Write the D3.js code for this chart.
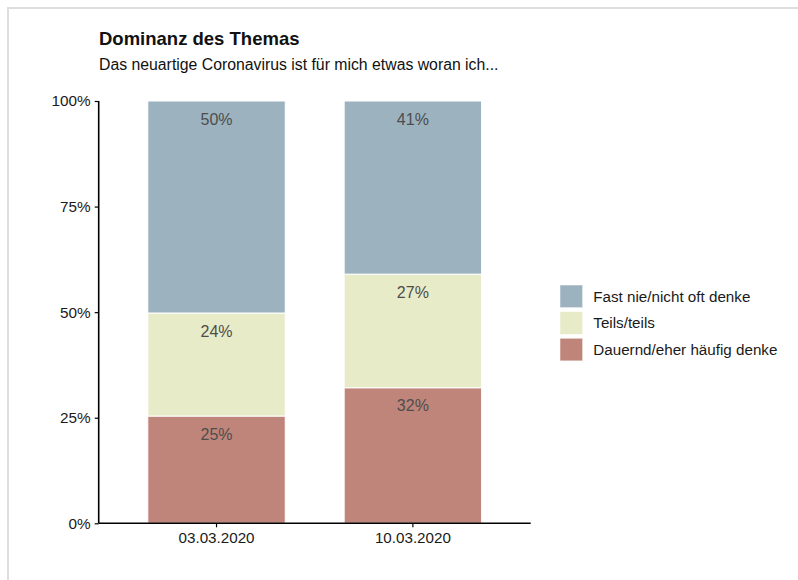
<!DOCTYPE html>
<html>
<head>
<meta charset="utf-8">
<script src="https://cdn.jsdelivr.net/npm/d3@7"></script>
<style>
  html, body { margin: 0; padding: 0; background: #fff; }
  svg { display: block; font-family: "Liberation Sans", Arial, Helvetica, sans-serif; }
</style>
</head>
<body>
<svg id="chart" width="798" height="580"></svg>
<script>
// ---- data ----
const categories = ["03.03.2020", "10.03.2020"];
const seriesNames = ["Dauernd/eher häufig denke", "Teils/teils", "Fast nie/nicht oft denke"];
const dauernd = [25.4, 32.1];
const teils = [24.4, 26.9];
const fastNie = [50.2, 41.0];
const valueLabels = [["25%", "32%"], ["24%", "27%"], ["50%", "41%"]];
const yTicks = [0, 25, 50, 75, 100];
const yTickLabels = ["0%", "25%", "50%", "75%", "100%"];
const colors = ["#C0857A", "#E8EBC7", "#9CB2BF"];
const legendOrder = ["Fast nie/nicht oft denke", "Teils/teils", "Dauernd/eher häufig denke"];
const legendColors = ["#9CB2BF", "#E8EBC7", "#C0857A"];

const rows = categories.map((c, i) => ({
  cat: c,
  "Dauernd/eher häufig denke": dauernd[i],
  "Teils/teils": teils[i],
  "Fast nie/nicht oft denke": fastNie[i]
}));

const svg = d3.select("#chart");

// frame
svg.append("rect").attr("x", 8).attr("y", 8).attr("width", 800).attr("height", 590)
  .attr("fill", "none").attr("stroke", "#dedede").attr("stroke-width", 2);

// titles
svg.append("text").attr("x", 99).attr("y", 45).attr("font-size", 18.5).attr("font-weight", "bold")
  .attr("fill", "#111").text("Dominanz des Themas");
svg.append("text").attr("x", 99).attr("y", 70).attr("font-size", 15.8)
  .attr("fill", "#111").text("Das neuartige Coronavirus ist für mich etwas woran ich...");

const plot = { left: 98.7, right: 530.7, top: 101, bottom: 523.3 };

const x = d3.scaleBand().domain(categories).range([plot.left, plot.right])
  .paddingInner(0.3).paddingOuter(0.25).align(0.5);
const y = d3.scaleLinear().domain([0, 100]).range([plot.bottom, plot.top]);

const stack = d3.stack().keys(seriesNames);
const stacked = stack(rows);

const g = svg.append("g");
stacked.forEach((layer, si) => {
  g.selectAll(null).data(layer).enter().append("rect")
    .attr("x", d => x(d.data.cat))
    .attr("width", x.bandwidth())
    .attr("y", d => y(d[1]))
    .attr("height", d => y(d[0]) - y(d[1]))
    .attr("fill", colors[si])
    .attr("stroke", "#fff").attr("stroke-width", 1);
});
stacked.forEach((layer, si) => {
  g.selectAll(null).data(layer).enter().append("text")
    .attr("x", d => x(d.data.cat) + x.bandwidth() / 2)
    .attr("y", d => y(d[1]) + 18)
    .attr("dy", "0.35em")
    .attr("text-anchor", "middle")
    .attr("font-size", 16)
    .attr("fill", "#4d4d4d")
    .text((d, i) => valueLabels[si][i]);
});

// axes
const yAxis = d3.axisLeft(y).tickValues(yTicks).tickFormat((d, i) => yTickLabels[i])
  .tickSize(4).tickPadding(4);
const ya = svg.append("g").attr("transform", `translate(${plot.left},0)`).call(yAxis);
ya.select(".domain").attr("stroke", "#000").attr("stroke-width", 1.6)
  .attr("d", `M0,${plot.bottom}V${plot.top}`);
ya.selectAll(".tick line").attr("stroke", "#000").attr("stroke-width", 1.2);
ya.selectAll(".tick text").attr("font-size", 15.3).attr("fill", "#1a1a1a")
  .attr("font-family", "Liberation Sans, Arial, sans-serif");

const xAxis = d3.axisBottom(x).tickSize(4).tickPadding(5);
const xa = svg.append("g").attr("transform", `translate(0,${plot.bottom})`).call(xAxis);
xa.select(".domain").attr("stroke", "#000").attr("stroke-width", 1.6)
  .attr("d", `M${plot.left},0H${plot.right}`);
xa.selectAll(".tick line").attr("stroke", "#000").attr("stroke-width", 1.2);
xa.selectAll(".tick text").attr("font-size", 15.2).attr("fill", "#1a1a1a")
  .attr("font-family", "Liberation Sans, Arial, sans-serif");

// legend
const leg = svg.append("g").attr("transform", "translate(560,285)");
legendOrder.forEach((name, i) => {
  const gi = leg.append("g").attr("transform", `translate(0,${i * 26.6})`);
  gi.append("rect").attr("width", 22.7).attr("height", 22.7).attr("fill", legendColors[i])
    .attr("stroke", "#fff").attr("stroke-width", 0.5);
  gi.append("text").attr("x", 33.3).attr("y", 11.5).attr("dy", "0.35em")
    .attr("font-size", 15.2).attr("fill", "#1a1a1a").text(name);
});
</script>
</body>
</html>
